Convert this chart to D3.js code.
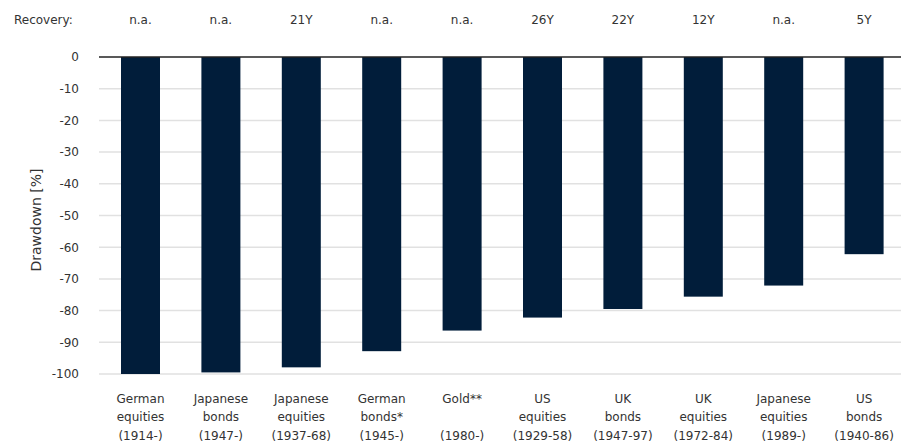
<!DOCTYPE html>
<html>
<head>
<meta charset="utf-8">
<script src="https://d3js.org/d3.v7.min.js"></script>
<style>
  body { margin: 0; background: #fff; }
  svg text { font-family: "DejaVu Sans", sans-serif; fill: #333; }
</style>
</head>
<body>
<svg width="901" height="444"></svg>
<script>
var svg = d3.select("svg"),
    width = 901,
    height = 444;

// the data
var categories = [
  ["German", "equities", "(1914-)"],
  ["Japanese", "bonds", "(1947-)"],
  ["Japanese", "equities", "(1937-68)"],
  ["German", "bonds*", "(1945-)"],
  ["Gold**", "", "(1980-)"],
  ["US", "equities", "(1929-58)"],
  ["UK", "bonds", "(1947-97)"],
  ["UK", "equities", "(1972-84)"],
  ["Japanese", "equities", "(1989-)"],
  ["US", "bonds", "(1940-86)"]
];
var drawdown = [-100, -99.5, -97.9, -92.8, -86.3, -82.2, -79.5, -75.6, -72.1, -62.2];
var recovery = ["n.a.", "n.a.", "21Y", "n.a.", "n.a.", "26Y", "22Y", "12Y", "n.a.", "5Y"];
var yTicks = [0, -10, -20, -30, -40, -50, -60, -70, -80, -90, -100];

// scales
var x = d3.scaleBand()
    .domain(d3.range(categories.length))
    .range([100.3, 904.3])
    .paddingInner(0.515)
    .paddingOuter(0.2575);

var y = d3.scaleLinear()
    .domain([-100, 0])
    .range([374, 57]);

// gridlines
svg.append("g")
  .selectAll("line")
  .data(yTicks.filter(function(d) { return d !== 0; }))
  .enter().append("line")
    .attr("x1", 99).attr("x2", width)
    .attr("y1", function(d) { return y(d); })
    .attr("y2", function(d) { return y(d); })
    .attr("stroke", "#e1e1e1")
    .attr("stroke-width", 1.5);

// y axis labels (plain hyphen minus, like the original)
var yAxis = d3.axisLeft(y)
    .tickValues(yTicks)
    .tickSize(0)
    .tickPadding(0)
    .tickFormat(function(d) { return String(d); });

svg.append("g")
    .attr("transform", "translate(79,0)")
    .call(yAxis)
    .call(function(g) { g.select(".domain").remove(); })
    .selectAll("text")
      .attr("font-size", 12)
      .attr("fill", "#333")
      .attr("font-family", "DejaVu Sans, sans-serif");

// bars
svg.append("g")
  .selectAll("rect")
  .data(drawdown)
  .enter().append("rect")
    .attr("x", function(d, i) { return x(i); })
    .attr("width", x.bandwidth())
    .attr("y", y(0))
    .attr("height", function(d) { return y(d) - y(0); })
    .attr("fill", "#011d3a");

// zero line
svg.append("line")
    .attr("x1", 99).attr("x2", width)
    .attr("y1", y(0)).attr("y2", y(0))
    .attr("stroke", "#222")
    .attr("stroke-width", 1.5);

// recovery row
svg.append("text")
    .attr("x", 14).attr("y", 24)
    .attr("font-size", 12)
    .text("Recovery:");

svg.append("g")
  .selectAll("text")
  .data(recovery)
  .enter().append("text")
    .attr("x", function(d, i) { return x(i) + x.bandwidth() / 2; })
    .attr("y", 24)
    .attr("text-anchor", "middle")
    .attr("font-size", 12)
    .text(function(d) { return d; });

// category labels
var cat = svg.append("g")
  .selectAll("text")
  .data(categories)
  .enter().append("text")
    .attr("text-anchor", "middle")
    .attr("font-size", 12)
    .attr("x", function(d, i) { return x(i) + x.bandwidth() / 2; });

cat.selectAll("tspan")
  .data(function(d) { return d; })
  .enter().append("tspan")
    .attr("x", function() { return d3.select(this.parentNode).attr("x"); })
    .attr("y", function(d, j) { return 402.5 + j * 18.5; })
    .text(function(d) { return d; });

// y axis title
svg.append("text")
    .attr("transform", "translate(41,220) rotate(-90)")
    .attr("text-anchor", "middle")
    .attr("font-size", 14)
    .text("Drawdown [%]");
</script>
</body>
</html>
